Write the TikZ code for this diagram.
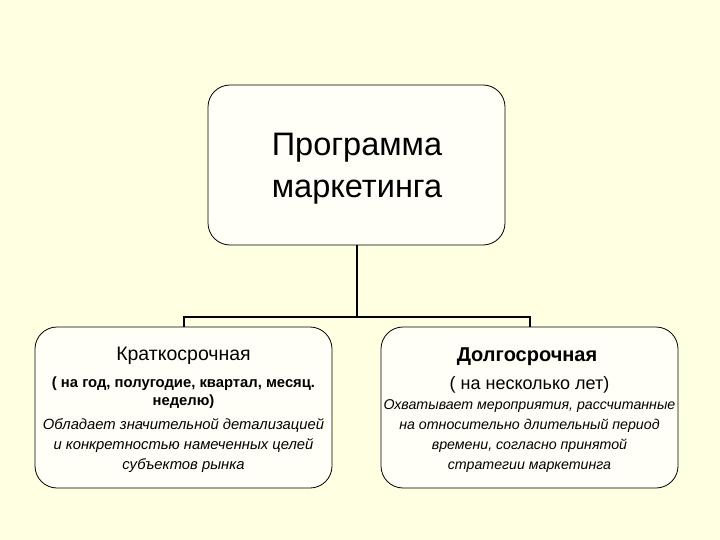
\documentclass[tikz,border=0pt]{standalone}
\usepackage{fontspec}
\setmainfont{Liberation Sans}
\usepackage{xcolor}
\definecolor{paper}{RGB}{255,255,225}
\definecolor{boxfill}{RGB}{255,255,247}

\begin{document}
\begin{tikzpicture}[x=1pt,y=-1pt,
    block/.style={draw=black,fill=boxfill,rounded corners=22pt,line width=0.8pt,minimum width=297pt,minimum height=161pt},
    link/.style={line width=2pt},
    note/.style={font=\itshape\fontsize{#1}{20}\selectfont,align=center,anchor=base}]
        \fill[paper] (0,0) rectangle (720,540);
        \useasboundingbox (0,0) rectangle (720,540);

        % upper block
        \node[block,minimum height=160pt] (program) at (356.5,165) {};
        \node[anchor=base,align=center,font=\fontsize{32.5}{43}\selectfont] (programtext) at (357,198) {Программа\\маркетинга};

        % lower blocks
        \node[block] (short) at (183.5,407.5) {};
        \node[block] (long) at (529.5,407.5) {};

        \node[anchor=base,font=\fontsize{19.5}{20}\selectfont] (shorttitle) at (183.5,360) {Краткосрочная};
        \node[anchor=base,align=center,font=\bfseries\fontsize{14.8}{18}\selectfont] (shortterm) at (183.5,405) {( на год, полугодие, квартал, месяц.\\неделю)};
        \node[note=14.8] (shortnote) at (183.5,469) {Обладает значительной детализацией\\и конкретностью намеченных целей\\субъектов рынка};

        \node[anchor=base,font=\bfseries\fontsize{20}{20}\selectfont] (longtitle) at (527,361) {Долгосрочная};
        \node[anchor=base,font=\fontsize{18}{20}\selectfont] (longterm) at (529.5,389) {( на несколько лет)};
        \node[note=14.2] (longnote) at (529.5,469) {Охватывает мероприятия, рассчитанные\\на относительно длительный период\\времени, согласно принятой\\стратегии маркетинга};

        % connectors
        \coordinate (split) at (356.5,317);
        \draw[link] (program.south) -- (split);
        \draw[link] (short.north) -- (short.north |- split) -- (long.north |- split) -- (long.north);
\end{tikzpicture}
\end{document}
